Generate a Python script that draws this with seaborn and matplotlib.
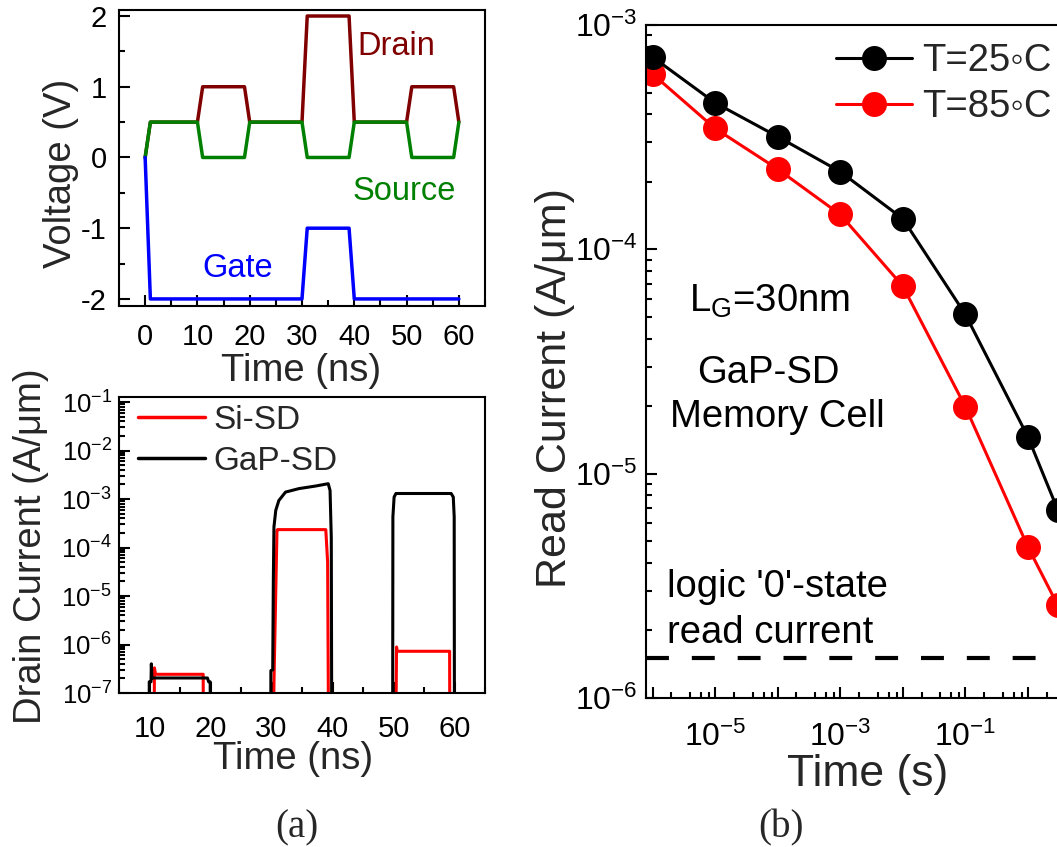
import numpy as np
import pandas as pd
import matplotlib
matplotlib.use("Agg")
import matplotlib.pyplot as plt
import matplotlib.ticker as mticker
from matplotlib.lines import Line2D
import seaborn as sns

# ---------------- (a) upper: terminal voltage waveforms ----------------
drain_t = [0, 1, 10, 11, 19, 20, 30, 31, 39, 40, 50, 51, 59, 60]
drain_v = [0, 0.5, 0.5, 1, 1, 0.5, 0.5, 2, 2, 0.5, 0.5, 1, 1, 0.5]
source_t = [0, 1, 10, 11, 19, 20, 30, 31, 39, 40, 50, 51, 59, 60]
source_v = [0, 0.5, 0.5, 0, 0, 0.5, 0.5, 0, 0, 0.5, 0.5, 0, 0, 0.5]
gate_t = [0, 1, 30, 31, 39, 40, 60]
gate_v = [0, -2, -2, -1, -1, -2, -2]

# ---------------- (a) lower: transient drain current ----------------
# values below 1e-7 lie under the axis floor and are clipped
si_t = [5, 10.75, 10.8, 11.0, 18.8, 18.85, 25,
        30.3, 30.4, 30.9, 31.0, 38.9, 39.2, 39.4, 45,
        50.3, 50.5, 50.6, 59.2, 59.25, 65]
si_i = [1e-9, 1e-9, 3.3e-7, 2.43e-7, 2.43e-7, 1e-9, 1e-9,
        1e-9, 1.56e-7, 2.27e-4, 2.34e-4, 2.34e-4, 5e-5, 1e-9, 1e-9,
        1e-9, 8.9e-7, 7.25e-7, 7.25e-7, 1e-9, 1e-9]
gap_t = [5, 9.95, 9.96, 10.25, 10.3, 10.4, 19.5, 19.7, 19.95, 20.0, 25,
         29.85, 29.9, 30.2, 30.3, 30.4, 30.7, 31.2, 32.3, 34.5, 37.2, 39.3,
         39.6, 39.8, 39.9, 45,
         49.85, 49.9, 50.1, 50.4, 59.45, 59.8, 59.95, 60.0, 65]
gap_i = [1e-9, 1e-9, 1.7e-7, 1.7e-7, 4.0e-7, 2.04e-7, 2.04e-7, 1.7e-7, 1.7e-7, 1e-9, 1e-9,
         1e-9, 2.9e-7, 3.0e-7, 2e-5, 2.65e-4, 5.85e-4, 9.3e-4, 1.39e-3, 1.64e-3, 1.85e-3, 2.07e-3,
         1.5e-3, 1.6e-4, 1e-9, 1e-9,
         1e-9, 4.3e-4, 1.1e-3, 1.3e-3, 1.3e-3, 1.1e-3, 4.3e-4, 1e-9, 1e-9]

# ---------------- (b) retention: read current vs time ----------------
ret_t = [1e-6, 1e-5, 1e-4, 1e-3, 1e-2, 1e-1, 1, 3]
read_25 = [7.2e-4, 4.5e-4, 3.18e-4, 2.22e-4, 1.37e-4, 5.13e-5, 1.46e-5, 6.9e-6]
read_85 = [6.05e-4, 3.46e-4, 2.28e-4, 1.43e-4, 6.86e-5, 1.99e-5, 4.72e-6, 2.59e-6]
logic0_read = 1.5e-6

sns.set_style("ticks")
plt.rcParams["font.family"] = ["Liberation Sans", "DejaVu Sans"]
plt.rcParams["mathtext.fontset"] = "custom"
plt.rcParams["mathtext.rm"] = "Liberation Sans"
plt.rcParams["mathtext.it"] = "Liberation Sans:italic"
plt.rcParams["mathtext.bf"] = "Liberation Sans:bold"
plt.rcParams["axes.linewidth"] = 1.5
plt.rcParams["axes.edgecolor"] = "black"
plt.rcParams["axes.unicode_minus"] = False

W, H = 1057, 847
fig = plt.figure(figsize=(W / 100, H / 100), dpi=100)


def px_axes(left, top, right, bottom):
    return fig.add_axes([left / W, 1 - bottom / H, (right - left) / W, (bottom - top) / H])


def style_ticks(ax, size, xpad, ypad):
    ax.tick_params(which="both", direction="in", top=False, right=False,
                   width=1.5, colors="black", labelsize=size)
    ax.tick_params(axis="x", which="both", pad=xpad)
    ax.tick_params(axis="y", which="both", pad=ypad)
    ax.tick_params(which="major", length=8)
    ax.tick_params(which="minor", length=4.5)


def pow10(v, pos):
    e = int(round(np.log10(v)))
    return r"$\mathregular{10^{%d}}$" % e


def pow10_odd(v, pos):
    e = int(round(np.log10(v)))
    return r"$\mathregular{10^{%d}}$" % e if e % 2 else ""


# ---------------- (a) upper ----------------
ax_v = px_axes(119, 10, 485, 306)
sns.lineplot(x=drain_t, y=drain_v, ax=ax_v, color="#800000", lw=2.5,
             estimator=None, sort=False)
sns.lineplot(x=source_t, y=source_v, ax=ax_v, color="#008000", lw=2.5,
             estimator=None, sort=False)
sns.lineplot(x=gate_t, y=gate_v, ax=ax_v, color="#0000ff", lw=2.5,
             estimator=None, sort=False)
ax_v.set_xlim(-5, 65)
ax_v.set_ylim(-2.1, 2.085)
ax_v.xaxis.set_major_locator(mticker.MultipleLocator(10))
ax_v.xaxis.set_minor_locator(mticker.MultipleLocator(5))
ax_v.yaxis.set_major_locator(mticker.MultipleLocator(1))
ax_v.yaxis.set_minor_locator(mticker.MultipleLocator(0.5))
style_ticks(ax_v, 21, 12.5, 9)
ax_v.set_xlabel("Time (ns)", fontsize=27.5)
ax_v.set_ylabel("Voltage (V)", fontsize=27.5)
ax_v.xaxis.set_label_coords(0.497, -0.16)
ax_v.yaxis.set_label_coords(-0.11, 0.449)
ax_v.text(357 / W, 1 - 55 / H, "Drain", color="#800000", fontsize=23.5,
          transform=fig.transFigure, va="baseline")
ax_v.text(353 / W, 1 - 200 / H, "Source", color="#008000", fontsize=23.5,
          transform=fig.transFigure, va="baseline")
ax_v.text(202 / W, 1 - 277 / H, "Gate", color="#0000ff", fontsize=23.5,
          transform=fig.transFigure, va="baseline")

# ---------------- (a) lower ----------------
ax_i = px_axes(119, 397, 485, 693)
sns.lineplot(x=si_t, y=si_i, ax=ax_i, color="#ff0000", lw=2.2,
             estimator=None, sort=False)
sns.lineplot(x=gap_t, y=gap_i, ax=ax_i, color="black", lw=2.2,
             estimator=None, sort=False)
ax_i.set_yscale("log")
ax_i.set_xlim(5, 65)
ax_i.set_ylim(1e-7, 0.127)
ax_i.xaxis.set_major_locator(mticker.MultipleLocator(10))
ax_i.xaxis.set_minor_locator(mticker.MultipleLocator(5))
ax_i.yaxis.set_major_locator(mticker.LogLocator(base=10, numticks=20))
ax_i.yaxis.set_minor_locator(mticker.LogLocator(base=10, subs=np.arange(2, 10), numticks=20))
ax_i.yaxis.set_major_formatter(mticker.FuncFormatter(pow10))
ax_i.yaxis.set_minor_formatter(mticker.NullFormatter())
style_ticks(ax_i, 21, 16, 5)
ax_i.tick_params(axis="y", labelsize=18.5)
ax_i.set_xlabel("Time (ns)", fontsize=27.5)
ax_i.set_ylabel("Drain Current (A/μm)", fontsize=27.5)
ax_i.xaxis.set_label_coords(0.475, -0.163)
ax_i.yaxis.set_label_coords(-0.19, 0.496)
leg_handles = [Line2D([], [], color="#ff0000", lw=2.5),
               Line2D([], [], color="black", lw=2.5)]
ax_i.legend(leg_handles, ["Si-SD", "GaP-SD"], loc="upper left",
            bbox_to_anchor=(138 / W, 1 - 405 / H), bbox_transform=fig.transFigure,
            frameon=False, fontsize=24, handlelength=2.0, handletextpad=0.25,
            labelspacing=0.3, borderpad=0, borderaxespad=0)

# ---------------- (b) ----------------
ax_r = px_axes(646, 25, 1153, 698)
sns.lineplot(x=ret_t, y=read_85, ax=ax_r, color="#ff0000", lw=2.2,
             marker="o", markersize=18, markeredgewidth=0,
             estimator=None, sort=False)
sns.lineplot(x=ret_t, y=read_25, ax=ax_r, color="black", lw=2.2,
             marker="o", markersize=18, markeredgewidth=0,
             estimator=None, sort=False)
ax_r.axhline(logic0_read, color="black", lw=3, dashes=(5.5, 5.5))
ax_r.set_xscale("log")
ax_r.set_yscale("log")
ax_r.set_xlim(10 ** -6.104, 1e2)
ax_r.set_ylim(1e-6, 1e-3)
ax_r.xaxis.set_major_locator(mticker.LogLocator(base=10, numticks=20))
ax_r.xaxis.set_minor_locator(mticker.LogLocator(base=10, subs=[2, 4, 6, 8], numticks=20))
ax_r.xaxis.set_major_formatter(mticker.FuncFormatter(pow10_odd))
ax_r.xaxis.set_minor_formatter(mticker.NullFormatter())
ax_r.yaxis.set_major_locator(mticker.LogLocator(base=10, numticks=20))
ax_r.yaxis.set_minor_locator(mticker.LogLocator(base=10, subs=np.arange(2, 10), numticks=20))
ax_r.yaxis.set_major_formatter(mticker.FuncFormatter(pow10))
ax_r.yaxis.set_minor_formatter(mticker.NullFormatter())
style_ticks(ax_r, 23, 17, 6)
ax_r.set_xlabel("Time (s)", fontsize=32)
ax_r.set_ylabel("Read Current (A/μm)", fontsize=31)
ax_r.xaxis.set_label_coords((868 - 646) / 507, -0.083)
ax_r.yaxis.set_label_coords(-0.14, 0.46)

r_handles = [Line2D([], [], color="black", lw=2.2, marker="o", markersize=18, markeredgewidth=0),
             Line2D([], [], color="#ff0000", lw=2.2, marker="o", markersize=18, markeredgewidth=0)]
ax_r.legend(r_handles, ["T=25\u25e6C", "T=85\u25e6C"], loc="upper left",
            bbox_to_anchor=(836 / W, 1 - 43 / H), bbox_transform=fig.transFigure,
            frameon=False, fontsize=27.5, handlelength=2.0, handletextpad=0.25,
            labelspacing=0.27, borderpad=0, borderaxespad=0, numpoints=1)

txt = dict(transform=fig.transFigure, fontsize=27.5, va="baseline", color="black")
fig.text(689 / W, 1 - 312 / H, r"L$_\mathregular{G}$=30nm", **txt)
fig.text(768 / W, 1 - 383 / H, "GaP-SD", ha="center", **txt)
fig.text(777 / W, 1 - 427 / H, "Memory Cell", ha="center", **txt)
fig.text(667 / W, 1 - 597 / H, "logic '0'-state", **txt)
fig.text(667 / W, 1 - 643 / H, "read current", **txt)

# panel captions
fig.text(297 / W, 1 - 828 / H, "(a)", fontsize=28, family="Liberation Serif",
         ha="center", va="center")
fig.text(781 / W, 1 - 828 / H, "(b)", fontsize=28, family="Liberation Serif",
         ha="center", va="center")

fig.savefig("out.png", dpi=100)
